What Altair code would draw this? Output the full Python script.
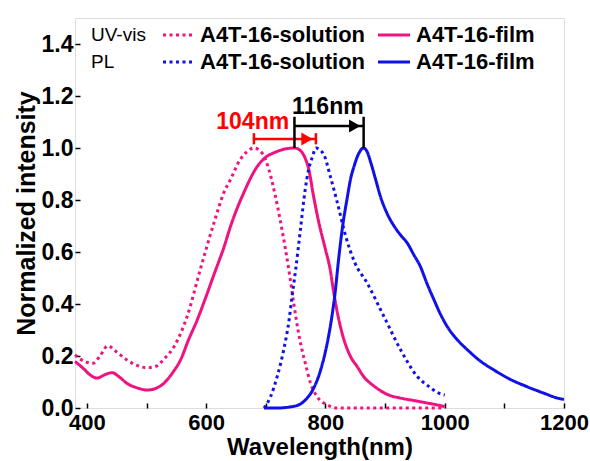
import altair as alt
import pandas as pd

# ---- spectra (wavelength in nm, normalized intensity) ----
uv_sol_wl = [380, 395, 410, 422, 435, 450, 467, 485, 500, 515, 530, 546, 568, 590, 613,
             630, 641, 657, 668, 680, 694, 705, 716, 725, 733, 740, 747, 754, 760, 767,
             775, 786, 803, 820, 900, 1000]
uv_sol_int = [0.204, 0.180, 0.172, 0.200, 0.239, 0.215, 0.185, 0.163, 0.155, 0.160, 0.190,
              0.236, 0.352, 0.532, 0.712, 0.830, 0.880, 0.956, 0.985, 1.000, 0.980, 0.918,
              0.815, 0.712, 0.610, 0.510, 0.400, 0.300, 0.230, 0.165, 0.095, 0.044, 0.012,
              0.0, 0.0, 0.0]

uv_film_wl = [380, 395, 405, 417, 430, 442, 455, 467, 485, 501, 515, 529, 545, 557, 570,
              585, 600, 613, 630, 641, 663, 686, 700, 714, 730, 748, 755, 761, 767, 772,
              780, 789, 800, 808, 814, 825, 842, 853, 864, 881, 906, 926, 950, 971, 993, 1000]
uv_film_int = [0.179, 0.150, 0.128, 0.115, 0.128, 0.136, 0.118, 0.095, 0.077, 0.069, 0.075,
               0.095, 0.140, 0.185, 0.260, 0.339, 0.430, 0.513, 0.620, 0.700, 0.828, 0.930,
               0.965, 0.982, 0.995, 1.000, 0.995, 0.982, 0.955, 0.918, 0.815, 0.712, 0.610,
               0.532, 0.442, 0.314, 0.198, 0.160, 0.121, 0.085, 0.050, 0.038, 0.028, 0.019,
               0.009, 0.005]

pl_sol_wl = [697, 708, 719, 730, 739, 744, 750, 758, 766, 772, 778, 784, 797, 808, 820,
             834, 849, 870, 898, 926, 954, 975, 990, 1000]
pl_sol_int = [0.0, 0.044, 0.121, 0.224, 0.339, 0.430, 0.532, 0.686, 0.840, 0.920, 0.965,
              1.000, 0.976, 0.892, 0.789, 0.660, 0.560, 0.480, 0.352, 0.224, 0.121, 0.080,
              0.057, 0.050]

pl_film_wl = [697, 720, 740, 755, 768, 780, 792, 803, 810, 816, 822, 828, 837, 842, 848,
              855, 864, 870, 876, 884, 892, 903, 915, 926, 937, 948, 959, 970, 982, 993,
              1004, 1020, 1038, 1060, 1082, 1110, 1138, 1165, 1191, 1200]
pl_film_int = [0.0, 0.0, 0.004, 0.012, 0.035, 0.075, 0.147, 0.250, 0.340, 0.440, 0.571,
               0.686, 0.815, 0.880, 0.930, 0.975, 1.000, 0.985, 0.944, 0.880, 0.815, 0.750,
               0.700, 0.665, 0.635, 0.590, 0.545, 0.480, 0.416, 0.360, 0.314, 0.265, 0.224,
               0.180, 0.147, 0.110, 0.082, 0.058, 0.037, 0.033]

series_names = ["UV-vis solution", "UV-vis film", "PL solution", "PL film"]
series_colors = ["#EE1380", "#EE1380", "#1010E8", "#1010E8"]
series_dash = [[3, 3.5], [1, 0], [3, 3.5], [1, 0]]

# ---- peak-shift brackets ----
shift_start = [680, 748]
shift_end = [784, 864]
shift_y = [1.035, 1.085]
shift_bar_low = [1.014, 1.0]
shift_bar_high = [1.057, 1.12]
shift_text = ["104nm", "116nm"]
shift_text_x = [678, 804]
shift_text_y = [1.10, 1.159]
shift_colors = ["#FF0000", "#000000"]

# ---- legend ----
legend_rows = ["UV-vis", "PL"]
legend_solution = ["A4T-16-solution", "A4T-16-solution"]
legend_film = ["A4T-16-film", "A4T-16-film"]
legend_colors = ["#EE1380", "#1010E8"]
legend_row_px = [17, 44]

FONT = "Liberation Sans"

frames = []
for name, wl, val in zip(series_names,
                         [uv_sol_wl, uv_film_wl, pl_sol_wl, pl_film_wl],
                         [uv_sol_int, uv_film_int, pl_sol_int, pl_film_int]):
    frames.append(pd.DataFrame({"series": name, "wl": wl, "intensity": val}))
spectra = pd.concat(frames, ignore_index=True)

x_scale = alt.Scale(domain=[380, 1200], nice=False, zero=False)
y_scale = alt.Scale(domain=[0, 1.5], nice=False)

x_axis = alt.Axis(
    values=list(range(400, 1201, 100)),
    format="d",
    labelExpr="datum.value % 200 == 0 ? datum.label : ''",
    offset=-5, tickSize=5, tickWidth=1.5, tickColor="black",
    domain=False, grid=False,
    labelPadding=4, labelFontSize=22, labelFontWeight="bold", labelColor="black",
    labelFlush=False, labelOverlap=False,
    title="Wavelength(nm)", titleFontSize=24, titleFontWeight="bold",
    titleColor="black", titlePadding=2,
)
y_axis = alt.Axis(
    values=[round(i * 0.1, 1) for i in range(16)],
    format=".1f",
    labelExpr="round(datum.value * 10) % 2 == 0 ? datum.label : ''",
    offset=-5, tickSize=5, tickWidth=1.5, tickColor="black",
    domain=False, grid=False,
    labelPadding=2, labelFontSize=23, labelFontWeight="bold", labelColor="black",
    labelFlush=False, labelOverlap=False,
    title="Normalized intensity", titleFontSize=25, titleFontWeight="bold",
    titleColor="black", titlePadding=2,
)

lines = alt.Chart(spectra).mark_line(strokeWidth=3, interpolate="monotone", strokeCap="butt").encode(
    x=alt.X("wl:Q", scale=x_scale, axis=x_axis),
    y=alt.Y("intensity:Q", scale=y_scale, axis=y_axis),
    color=alt.Color("series:N", scale=alt.Scale(domain=series_names, range=series_colors), legend=None),
    strokeDash=alt.StrokeDash("series:N", scale=alt.Scale(domain=series_names, range=series_dash), legend=None),
)

shifts = pd.DataFrame({
    "start": shift_start, "end": shift_end, "y": shift_y,
    "low": shift_bar_low, "high": shift_bar_high,
    "text": shift_text, "tx": shift_text_x, "ty": shift_text_y,
    "color": shift_colors,
})
shifts["head"] = shifts["end"] - 15

shift_color = alt.Color("color:N", scale=None)
sx = lambda f: alt.X(f, scale=x_scale)
sy = lambda f: alt.Y(f, scale=y_scale)

span = alt.Chart(shifts).mark_rule(strokeWidth=2.5).encode(
    x=sx("start:Q"), x2="end:Q", y=sy("y:Q"), color=shift_color)
bar_left = alt.Chart(shifts).mark_rule(strokeWidth=2.5).encode(
    x=sx("start:Q"), y=sy("low:Q"), y2="high:Q", color=shift_color)
bar_right = alt.Chart(shifts).mark_rule(strokeWidth=2.5).encode(
    x=sx("end:Q"), y=sy("low:Q"), y2="high:Q", color=shift_color)
heads = alt.Chart(shifts).mark_point(shape="triangle-right", filled=True, size=170, opacity=1).encode(
    x=sx("head:Q"), y=sy("y:Q"), color=shift_color)
shift_labels = alt.Chart(shifts).mark_text(font=FONT, fontSize=23, fontWeight="bold").encode(
    x=sx("tx:Q"), y=sy("ty:Q"), text="text:N", color=shift_color)

# legend drawn inside the plot frame, one row per measurement type
legend_layers = []
for row, sol, film, col, py in zip(legend_rows, legend_solution, legend_film,
                                    legend_colors, legend_row_px):
    leg = pd.DataFrame({"row": [row], "sol": [sol], "film": [film]})
    base = alt.Chart(leg)
    legend_layers += [
        base.mark_text(font=FONT, fontSize=19, align="left", baseline="middle", color="black").encode(
            x=alt.value(16), y=alt.value(py), text="row:N"),
        base.mark_rule(strokeWidth=3, strokeDash=[3, 3.5], color=col).encode(
            x=alt.value(88), x2=alt.value(119), y=alt.value(py)),
        base.mark_text(font=FONT, fontSize=22, fontWeight="bold", align="left", baseline="middle",
                       color="black").encode(
            x=alt.value(125), y=alt.value(py), text="sol:N"),
        base.mark_rule(strokeWidth=3, color=col).encode(
            x=alt.value(303), x2=alt.value(335), y=alt.value(py)),
        base.mark_text(font=FONT, fontSize=22, fontWeight="bold", align="left", baseline="middle",
                       color="black").encode(
            x=alt.value(341), y=alt.value(py), text="film:N"),
    ]

chart = alt.layer(
    lines, span, bar_left, bar_right, heads, shift_labels, *legend_layers,
).properties(
    width=489, height=390,
    autosize=alt.AutoSizeParams(type="none"),
    padding={"left": 75, "top": 18, "right": 26, "bottom": 53},
    background="white",
).configure_view(
    stroke="black", strokeWidth=1.5
).configure(
    font=FONT
)

chart.save("out.html", embed_options={"renderer": "svg", "actions": False})
